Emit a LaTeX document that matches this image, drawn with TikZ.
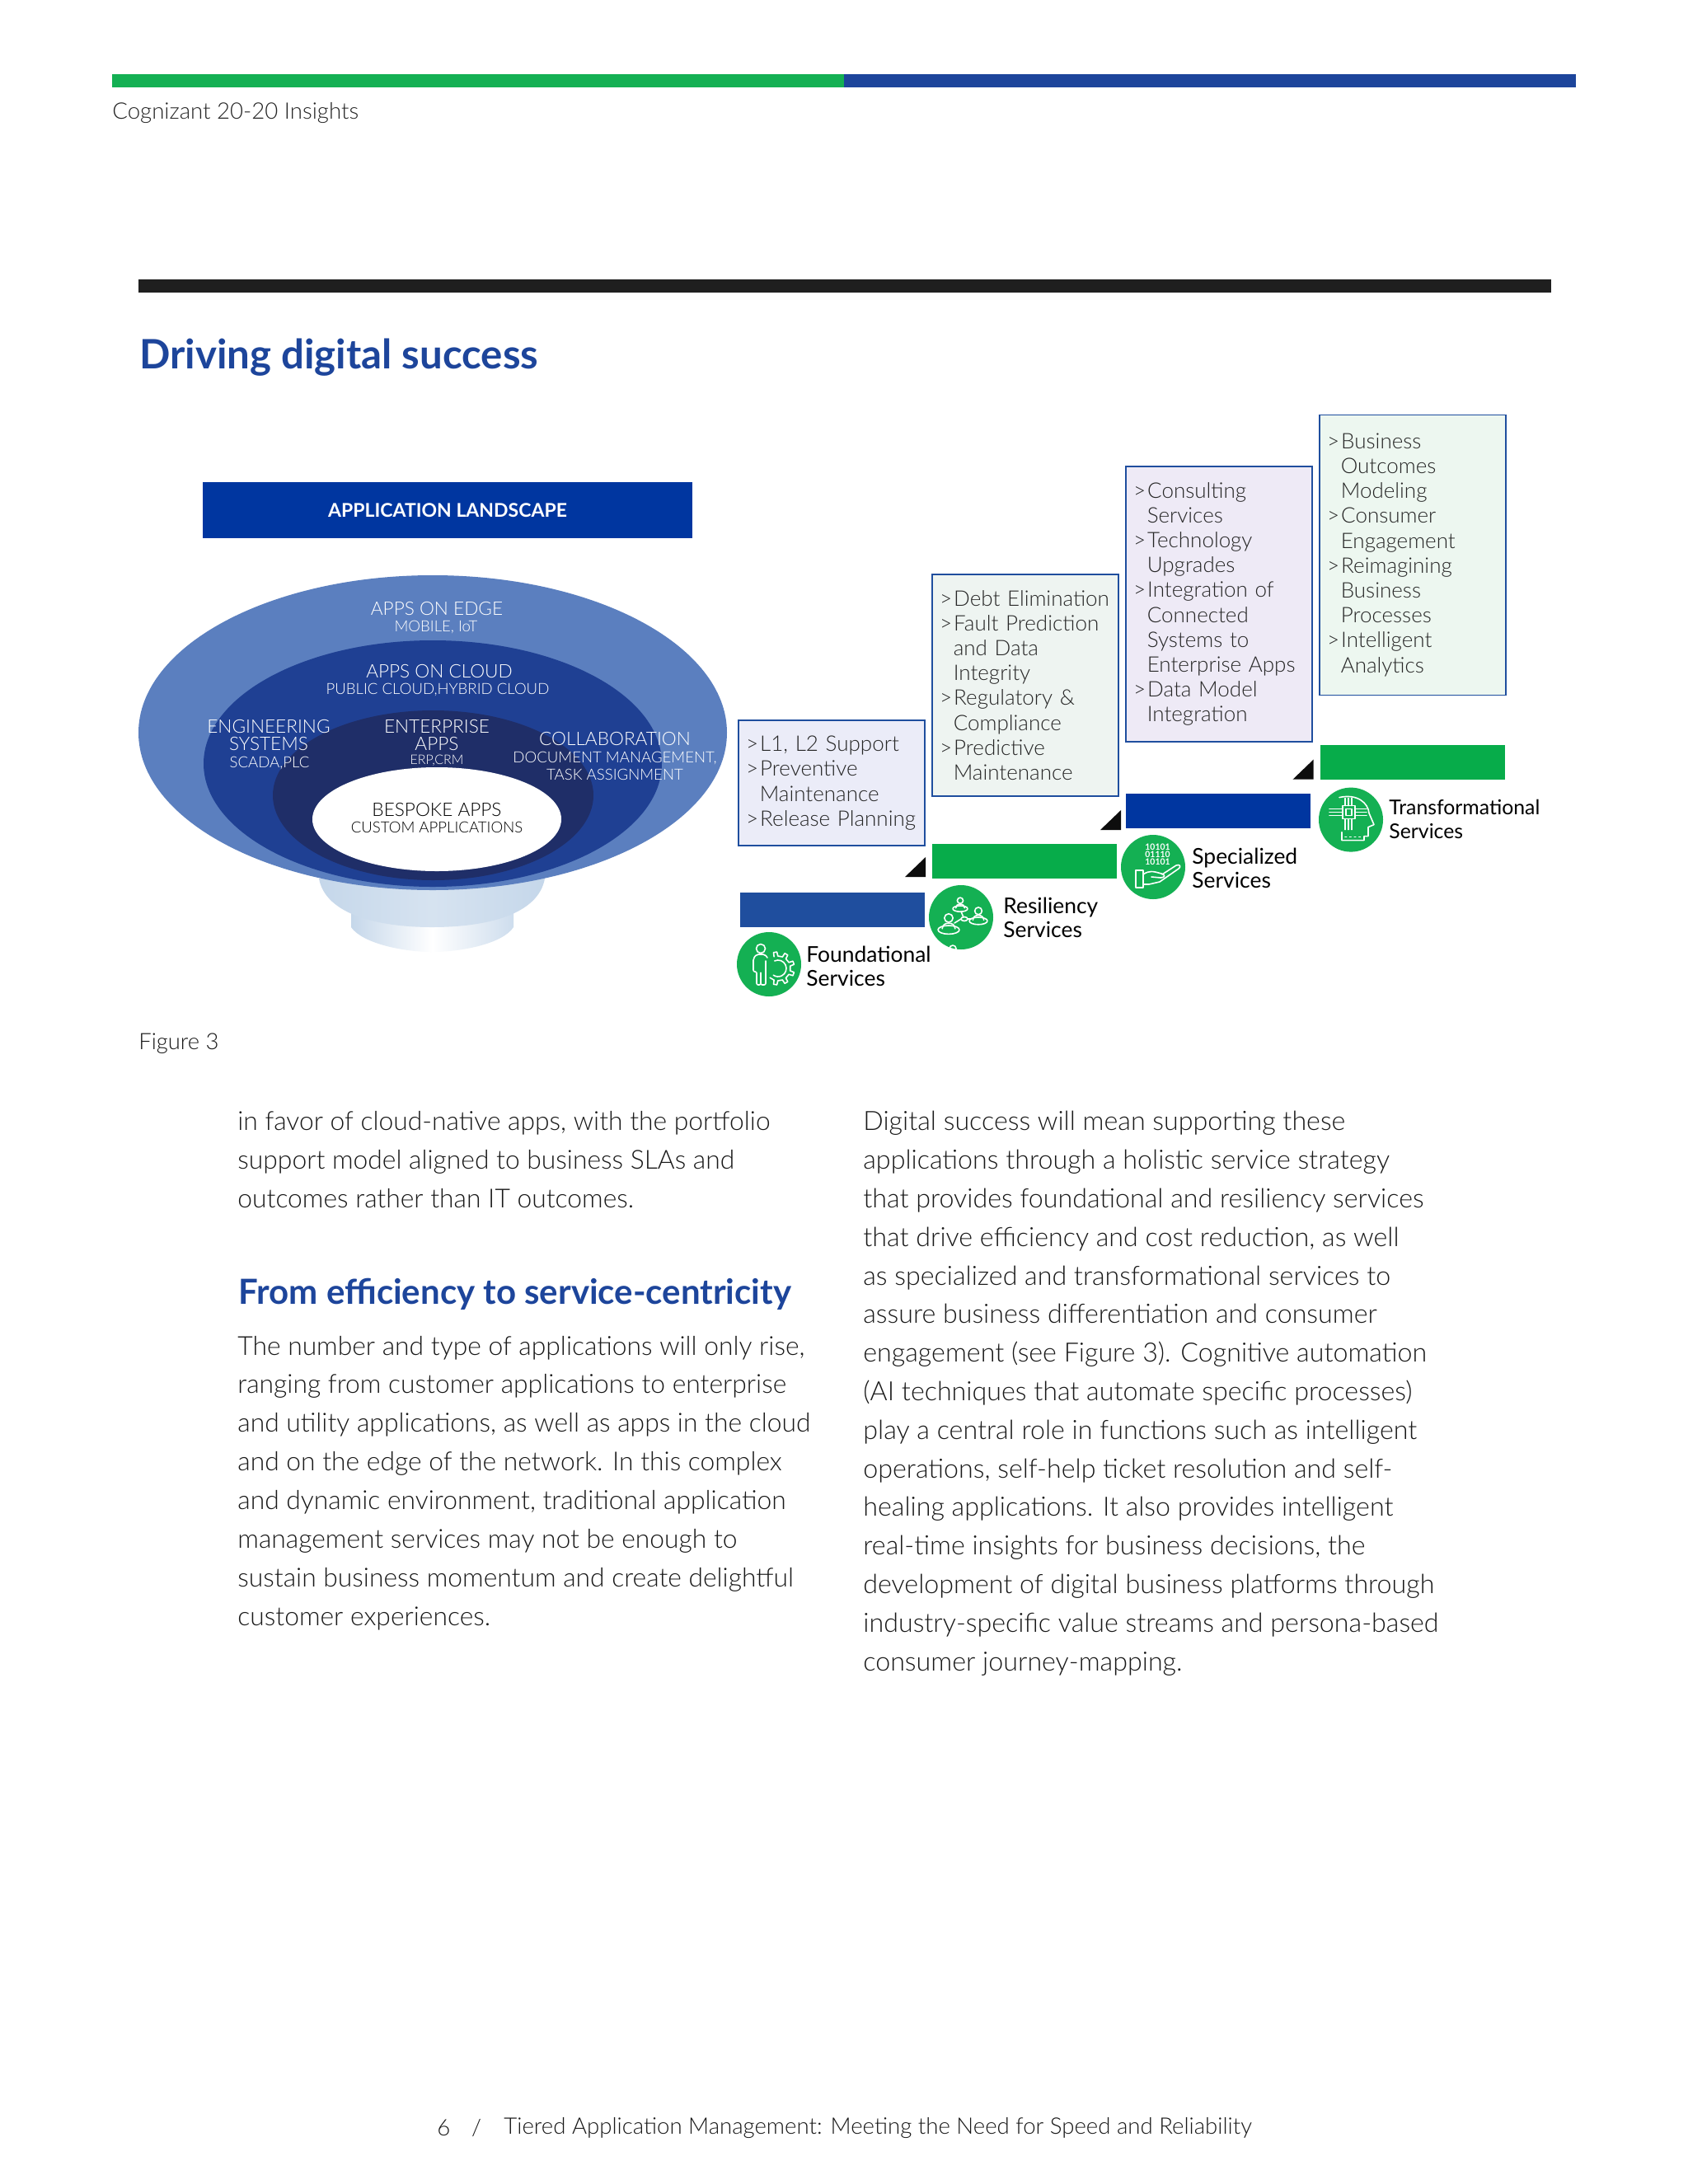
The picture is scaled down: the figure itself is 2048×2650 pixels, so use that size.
\documentclass[tikz,border=0pt]{standalone}
\usepackage{fontspec}
\usetikzlibrary{shapes.geometric}
\setmainfont{Lato}
\newfontfamily\lightfont{Lato Light}
\definecolor{insightgreen}{HTML}{14B053}
\definecolor{insightblue}{HTML}{1D459B}
\definecolor{barblue}{HTML}{1F4E9E}
\definecolor{deepblue}{HTML}{0036A0}
\definecolor{bargreen}{HTML}{07AC4A}
\definecolor{edgeblue}{HTML}{5B7FBF}
\definecolor{cloudblue}{HTML}{1F4093}
\definecolor{entblue}{HTML}{1F2E68}
\definecolor{bowlblue}{HTML}{C5D7EA}
\definecolor{paleone}{HTML}{EBECF8}
\definecolor{paletwo}{HTML}{EEF4F1}
\definecolor{palethree}{HTML}{EEEAF6}
\definecolor{palefour}{HTML}{EDF7F0}
\newcommand{\gtitem}{\makebox[8.6pt][l]{>}}
\newcommand{\gtcont}{\hspace*{8.4pt}}
\newcommand{\netperson}[3]{
	\draw (#1,#2-7*#3) circle [radius=4*#3];
	\draw (#1-6*#3,#2+3*#3) .. controls (#1-6*#3,#2-4*#3) and (#1+6*#3,#2-4*#3) .. (#1+6*#3,#2+3*#3);
	\draw (#1,#2+4*#3) ellipse [x radius=10*#3, y radius=4*#3];
}
\begin{document}
\begin{tikzpicture}[x=0.5pt, y=-0.5pt]
	\tikzstyle{landhead} = [text=white, align=center, inner sep=0, font={\lightfont\fontsize{11.3}{10.5}\selectfont}]
	\tikzstyle{landsub} = [text=white, align=center, inner sep=0, font={\lightfont\fontsize{9.3}{10.5}\selectfont}]
	\tikzstyle{stepbox} = [draw=barblue, line width=0.8pt, rectangle, minimum width=113pt, text width=104pt, inner xsep=4.5pt, align=left, text=black!85, font={\lightfont\fontsize{13}{15.1}\selectfont}]
	\tikzstyle{stepbar} = [rectangle, minimum width=112pt, minimum height=21pt, inner sep=0]
	\tikzstyle{svcicon} = [circle, fill=insightgreen, minimum size=39pt, inner sep=0]
	\tikzstyle{svclabel} = [anchor=west, align=left, inner sep=0, font={\fontsize{13.2}{14.5}\selectfont}]
	\tikzstyle{bodytext} = [anchor=north west, align=left, inner sep=0, text=black!90, font={\lightfont\fontsize{15.9}{23.45}\selectfont}]
	\tikzstyle{iconline} = [draw=white, line width=0.8pt, line join=round, line cap=round]
	\useasboundingbox (0,0) rectangle (2048,2650);
	\fill[white] (0,0) rectangle (2048,2650);

	% page head
	\fill[insightgreen] (136,90) rectangle (1024,106);
	\fill[insightblue] (1024,90) rectangle (1912,106);
	\node[anchor=west, inner sep=0, text=black!85, font={\lightfont\fontsize{13.8}{16}\selectfont}] (runhead) at (136,137) {Cognizant 20-20 Insights};
	\fill[black!88] (168,339) rectangle (1882,355);
	\node[anchor=west, inner sep=0, text=insightblue, font={\bfseries\fontsize{24.6}{28}\selectfont}] (figtitle) at (169,434) {Driving digital success};

	% application landscape
	\node[rectangle, fill=deepblue, text=white, minimum width=297pt, minimum height=34.25pt, inner sep=0, font={\bfseries\fontsize{11.5}{13}\selectfont}] (landbar) at (543,619) {APPLICATION LANDSCAPE};
	\shade[left color=bowlblue, right color=bowlblue!85, middle color=white] (426,1105) -- (426,1125) .. controls (440,1145) and (490,1155) .. (524,1155) .. controls (560,1155) and (610,1145) .. (623,1125) -- (623,1105) -- cycle;
	\shade[left color=bowlblue, right color=bowlblue, middle color=bowlblue!70] (387,1066) .. controls (395,1110) and (460,1125) .. (524,1125) .. controls (590,1125) and (653,1110) .. (661,1066) -- cycle;
	\node[ellipse, fill=edgeblue, minimum width=357pt, minimum height=191pt, inner sep=0] (edge) at (525,889) {};
	\node[ellipse, fill=cloudblue, minimum width=278pt, minimum height=149.5pt, inner sep=0] (cloud) at (525,926.5) {};
	\node[ellipse, fill=entblue, minimum width=194.5pt, minimum height=103pt, inner sep=0] (ent) at (525.5,965) {};
	\node[ellipse, fill=white, minimum width=151pt, minimum height=63pt, inner sep=0] (bespoke) at (530,994) {};
	\node[landhead] (t1) at (530,738) {APPS ON EDGE};
	\node[landsub] (t2) at (529,761) {MOBILE, IoT};
	\node[landhead] (t3) at (533,815) {APPS ON CLOUD};
	\node[landsub] (t4) at (531,837) {PUBLIC CLOUD,HYBRID CLOUD};
	\node[landhead] (t5) at (326,892) {ENGINEERING\\SYSTEMS};
	\node[landsub] (t6) at (327,926) {SCADA,PLC};
	\node[landhead] (t7) at (530,892) {ENTERPRISE\\APPS};
	\node[landsub, font={\lightfont\fontsize{8}{9}\selectfont}] (t8) at (530,923) {ERP,CRM};
	\node[landhead] (t9) at (746,896) {COLLABORATION};
	\node[landsub] (t10) at (746,929) {DOCUMENT MANAGEMENT,\\TASK ASSIGNMENT};
	\node[landhead, text=black] (t11) at (530,982) {BESPOKE APPS};
	\node[landsub, text=black] (t12) at (530,1004) {CUSTOM APPLICATIONS};

	% service steps
	\node[stepbox, fill=paleone, minimum height=76pt] (s1) at (1009,950) {\gtitem L1, L2 Support\\\gtitem Preventive\\\gtcont Maintenance\\\gtitem Release Planning};
	\node[stepbox, fill=paletwo, minimum height=134.5pt] (s2) at (1244,831.5) {\gtitem Debt Elimination\\\gtitem Fault Prediction\\\gtcont and Data\\\gtcont Integrity\\\gtitem Regulatory \&\\\gtcont Compliance\\\gtitem Predictive\\\gtcont Maintenance};
	\node[stepbox, fill=palethree, minimum height=167pt] (s3) at (1479,733) {\gtitem Consulting\\\gtcont Services\\\gtitem Technology\\\gtcont Upgrades\\\gtitem Integration of\\\gtcont Connected\\\gtcont Systems to\\\gtcont Enterprise Apps\\\gtitem Data Model\\\gtcont Integration};
	\node[stepbox, fill=palefour, minimum height=170pt] (s4) at (1714,673.3) {\gtitem Business\\\gtcont Outcomes\\\gtcont Modeling\\\gtitem Consumer\\\gtcont Engagement\\\gtitem Reimagining\\\gtcont Business\\\gtcont Processes\\\gtitem Intelligent\\\gtcont Analytics};
	\node[stepbar, fill=barblue] (b1) at (1010,1104) {};
	\node[stepbar, fill=bargreen] (b2) at (1242.5,1044.5) {};
	\node[stepbar, fill=deepblue] (b3) at (1478,984) {};
	\node[stepbar, fill=bargreen] (b4) at (1714,925) {};
	\foreach \tx/\ty in {1123/1064, 1360/1007, 1593.6/945.6}
		\fill[black!95] (\tx-25,\ty) -- (\tx,\ty) -- (\tx,\ty-24) -- cycle;

	% foundational
	\node[svcicon] (c1) at (933,1170) {};
	\begin{scope}[shift={(933,1170)}, iconline]
		\draw (-10,-19) circle [radius=5.5];
		\draw[rounded corners=1pt] (-2,-8) -- (-5,-12) -- (-15,-12) -- (-19,-7) -- (-19,9) -- (-15,9) -- (-15,25) -- (-10,25) -- (-10,9) -- (-10,25) -- (-4,25) -- (-4,-4);
		\foreach \a in {-100,-60,...,100}
			\draw ([shift={(11,5)}]\a-9:15) -- ([shift={(11,5)}]\a-6:20) -- ([shift={(11,5)}]\a+6:20) -- ([shift={(11,5)}]\a+9:15) -- ([shift={(11,5)}]\a+31:15);
		\draw ([shift={(11,5)}]-115:10) arc [start angle=-115, end angle=125, radius=10];
	\end{scope}
	\node[svclabel] (l1) at (978,1172) {Foundational\\Services};

	% resiliency
	\begin{scope}
		\clip (1120,1060) rectangle (1215,1152);
		\node[svcicon] (c2) at (1166,1113) {};
		\begin{scope}[shift={(1166,1113)}, iconline]
			\netperson{-1}{-14}{0.9}
			\netperson{21}{0}{1.1}
			\netperson{-15}{10}{1.3}
			\netperson{-10}{45}{1}
			\draw (4,2) ellipse [x radius=4, y radius=2.5];
			\draw (0,2) -- (-8,7);
			\draw (8,2) -- (12,2);
			\draw (3,0) -- (0,-7);
		\end{scope}
	\end{scope}
	\node[svclabel] (l2) at (1217,1113) {Resiliency\\Services};

	% specialized
	\node[svcicon] (c3) at (1399,1052) {};
	\node[text=white, align=center, inner sep=0, font={\bfseries\fontsize{5.2}{4.4}\selectfont}] (bits) at (1404.5,1037) {10101\\01110\\10101};
	\begin{scope}[shift={(1399,1052)}, iconline]
		\draw (-21,4) rectangle (-12,25);
		\draw (-12,9) .. controls (-5,4) and (0,5) .. (10,8) .. controls (15,9) and (15,13) .. (9,13) -- (-2,12);
		\draw (11,9) -- (28,-2) .. controls (33,-4) and (34,0) .. (31,2) -- (8,18) -- (-5,21) -- (-12,21);
	\end{scope}
	\node[svclabel] (l3) at (1446,1053) {Specialized\\Services};

	% transformational
	\node[svcicon] (c4) at (1639,994.6) {};
	\begin{scope}[shift={(1639,994.6)}, iconline]
		\draw (-14,-27) .. controls (8,-32) and (21,-20) .. (22,-8) -- (28,6) -- (21,9) -- (21,20) -- (16,20) -- (16,25) -- (-11,25) -- (-11,15);
		\draw (-10,-17) rectangle (5,-1);
		\draw (-6,-13) rectangle (1,-5);
		\foreach \ty in {-13,-9,-5} {
			\draw (-10,\ty) -- (-26,\ty);
			\draw (5,\ty) -- (19,\ty);
		}
		\foreach \tx in {-7,-3,1} {
			\draw (\tx,-17) -- (\tx,-26);
			\draw (\tx,-1) -- (\tx,12);
		}
		\draw[dotted] (-7,21) -- (12,21);
	\end{scope}
	\node[svclabel, font={\fontsize{12.4}{14.5}\selectfont}] (l4) at (1685,994) {Transformational\\Services};

	% captions and columns
	\node[anchor=west, inner sep=0, text=black!90, font={\lightfont\fontsize{13.7}{16}\selectfont}] (figcap) at (168,1266) {Figure 3};
	\node[bodytext] (p1) at (288,1348) {in favor of cloud-native apps, with the portfolio\\support model aligned to business SLAs and\\outcomes rather than IT outcomes.};
	\node[anchor=west, inner sep=0, text=insightblue, font={\bfseries\fontsize{21}{24}\selectfont}] (subhead) at (289,1570) {From efficiency to service-centricity};
	\node[bodytext] (p2) at (288,1620.5) {The number and type of applications will only rise,\\ranging from customer applications to enterprise\\and utility applications, as well as apps in the cloud\\and on the edge of the network. In this complex\\and dynamic environment, traditional application\\management services may not be enough to\\sustain business momentum and create delightful\\customer experiences.};
	\node[bodytext, font={\lightfont\fontsize{16.1}{23.4}\selectfont}] (p3) at (1047,1348) {Digital success will mean supporting these\\applications through a holistic service strategy\\that provides foundational and resiliency services\\that drive efficiency and cost reduction, as well\\as specialized and transformational services to\\assure business differentiation and consumer\\engagement (see Figure 3). Cognitive automation\\(AI techniques that automate specific processes)\\play a central role in functions such as intelligent\\operations, self-help ticket resolution and self-\\healing applications. It also provides intelligent\\real-time insights for business decisions, the\\development of digital business platforms through\\industry-specific value streams and persona-based\\consumer journey-mapping.};

	% foot line
	\node[anchor=west, inner sep=0, text=black!90, font={\lightfont\fontsize{13.8}{16}\selectfont}] (folio) at (530,2582) {6};
	\node[anchor=center, inner sep=0, text=black!90, font={\lightfont\fontsize{13.8}{16}\selectfont}] (slash) at (578,2582) {/};
	\node[anchor=west, inner sep=0, text=black!90, font={\lightfont\fontsize{13.8}{16}\selectfont}] (foottitle) at (611,2582) {Tiered Application Management: Meeting the Need for Speed and Reliability};
\end{tikzpicture}
\end{document}
